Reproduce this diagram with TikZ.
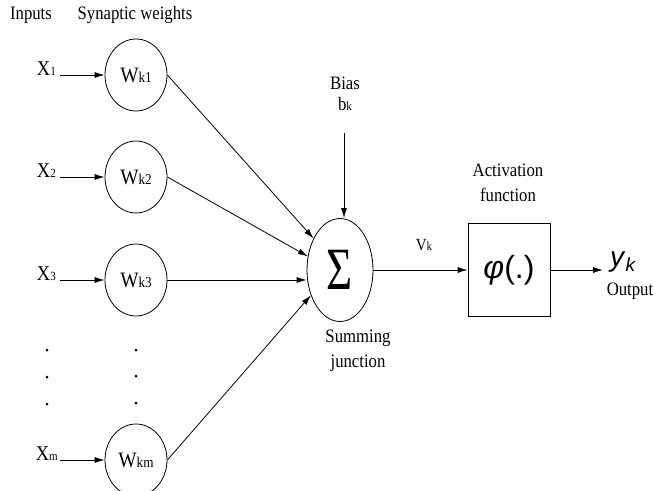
\documentclass[tikz,border=0pt]{standalone}
\usepackage{fontspec}
\setmainfont{Liberation Serif}[FakeStretch=0.88]
\newfontfamily\sansf{Liberation Sans}
\usetikzlibrary{shapes.geometric,arrows.meta}
\newcommand{\sbs}[1]{{\fontsize{12.5}{13}\selectfont #1}}
\newcommand{\wsbs}[1]{{\fontsize{15}{16}\selectfont #1}}
\begin{document}
\begin{tikzpicture}[x=1pt,y=-1pt,
  every node/.style={font=\fontsize{19}{25}\selectfont},
  wt/.style={draw, ellipse, minimum width=62pt, minimum height=72pt, inner sep=0pt, line width=0.8pt, font=\fontsize{22}{24}\selectfont},
  xin/.style={inner sep=0pt, anchor=base east, font=\fontsize{21}{24}\selectfont},
  arr/.style={-{Latex[length=10pt,width=6pt]}, line width=0.8pt},
  lbl/.style={inner sep=0pt},
  dotc/.style={circle, fill, inner sep=0pt, minimum size=3pt}]
\useasboundingbox (0,0) rectangle (653,490);
% headers
\node[lbl] (tin) at (31,15) {Inputs};
\node[lbl] (tsw) at (135,15) {Synaptic weights};
% weights
\node[wt] (w1) at (136,75) {W\wsbs{k1}};
\node[wt] (w2) at (136,177) {W\wsbs{k2}};
\node[wt] (w3) at (136,280) {W\wsbs{k3}};
\node[wt] (wm) at (136,460) {W\wsbs{km}};
% inputs
\node[xin] (x1) at (56,75) {X\sbs{1}};
\node[xin] (x2) at (56,177) {X\sbs{2}};
\node[xin] (x3) at (56,280) {X\sbs{3}};
\node[xin] (xm) at (58,460) {X\sbs{m}};
\draw[arr] ([xshift=4pt]x1.base east) -- (w1.west);
\draw[arr] ([xshift=4pt]x2.base east) -- (w2.west);
\draw[arr] ([xshift=4pt]x3.base east) -- (w3.west);
\draw[arr] ([xshift=2pt]xm.base east) -- (wm.west);
% dots
\node[dotc] (d1) at (47,350) {};
\node[dotc] (d2) at (47,377) {};
\node[dotc] (d3) at (47,404) {};
\node[dotc] (d4) at (136,350) {};
\node[dotc] (d5) at (136,376) {};
\node[dotc] (d6) at (136,403) {};
% summing junction
\node[draw, ellipse, minimum width=66pt, minimum height=103pt, inner sep=0pt, line width=0.8pt] (sum) at (340,270)
  {\scalebox{0.85}[1]{\fontsize{60}{60}\selectfont Σ}};
\node[align=center, inner sep=0pt] (suml) at (358,351) {Summing\\junction};
\draw[arr] (w1.east) -- (sum.130);
\draw[arr] (w2.east) -- (sum.157);
\draw[arr] (w3.east) -- (sum.west |- w3.east);
\draw[arr] (wm.east) -- (sum.221);
% bias
\node[lbl] (bias) at (345,83) {Bias};
\node[lbl] (bk) at (345,104) {b\sbs{k}};
\coordinate (bstart) at (344,133);
\draw[arr] (bstart) -- (sum.north -| bstart);
% activation
\node[draw, minimum width=82pt, minimum height=93pt, inner sep=0pt, line width=0.8pt] (act) at (509,270)
  {\sansf\fontsize{32}{32}\selectfont\textit{φ}(.)};
\node[align=center, inner sep=0pt] (actl) at (508,183) {Activation\\function};
\draw[arr] (sum.east) -- (act.west);
\node[lbl, font=\fontsize{17}{20}\selectfont] (vk) at (424,245) {V\sbs{k}};
\coordinate (yend) at (603,270);
\draw[arr] (act.east) -- (yend);
\node[lbl, anchor=west] (yk) at (610,262) {\sansf\fontsize{28}{28}\selectfont\textit{y}\raisebox{-5pt}{\fontsize{19}{19}\selectfont\textit{k}}};
\node[lbl] (outl) at (630,291) {Output};
\end{tikzpicture}
\end{document}
